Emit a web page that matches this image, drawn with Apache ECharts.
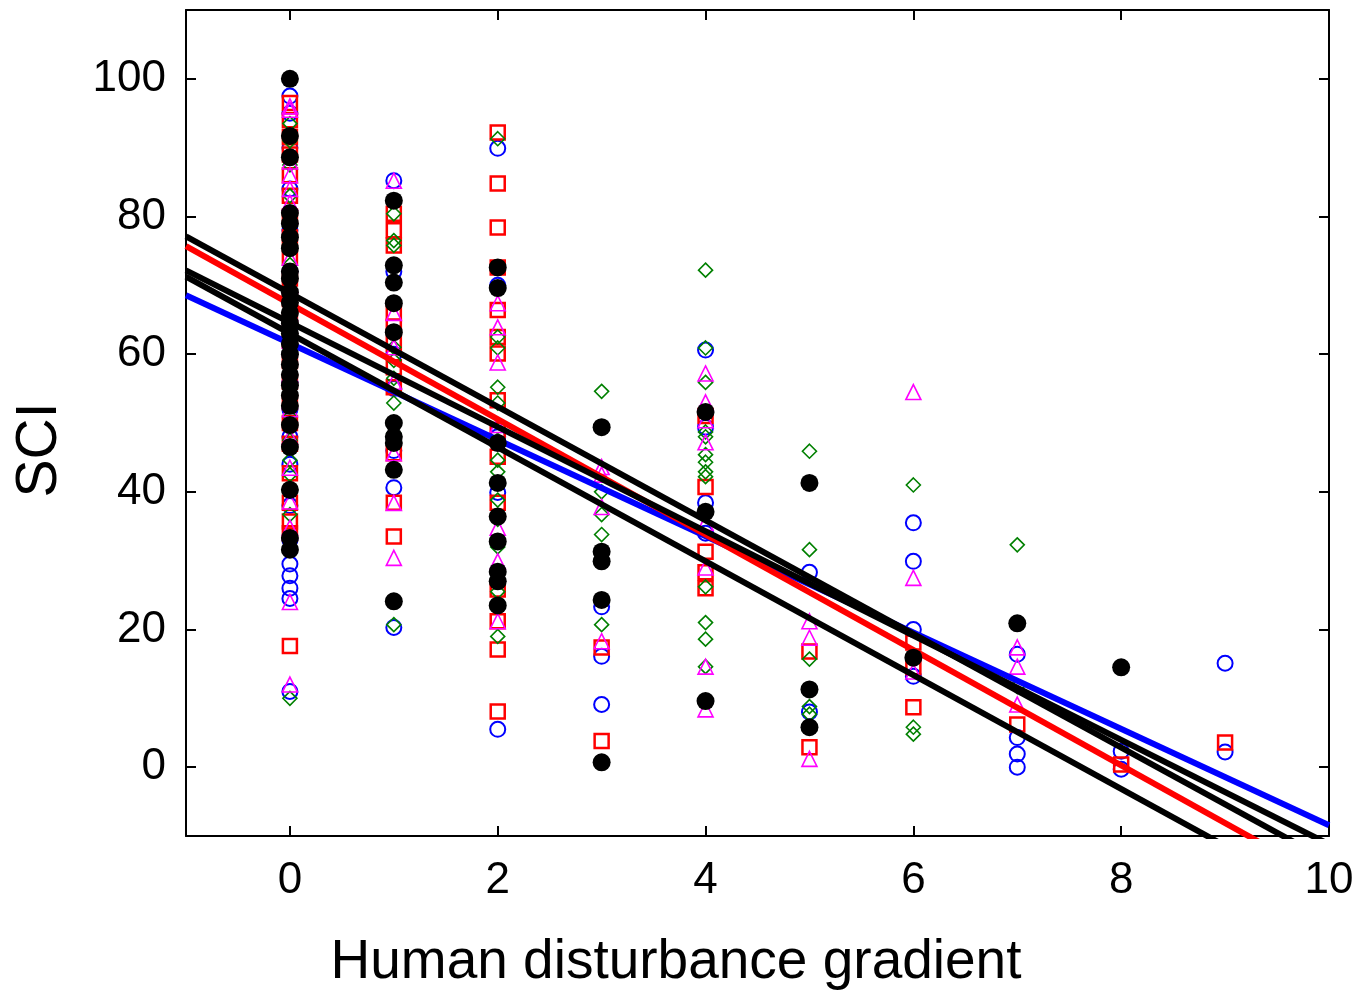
<!DOCTYPE html>
<html><head><meta charset="utf-8">
<script src="https://cdn.jsdelivr.net/npm/echarts@6/dist/echarts.min.js"></script>
<style>html,body{margin:0;padding:0;background:#fff}#c{width:1360px;height:993px}</style>
</head><body><div id="c"></div><script>
const xTicks = [0, 2, 4, 6, 8, 10];
const yTicks = [0, 20, 40, 60, 80, 100];
const xTitle = 'Human disturbance gradient';
const yTitle = 'SCI';

const blueCircles = [
  [0,97.5],[0,95],[0,90],[0,84],[0,78],[0,72],[0,68],[0,64],[0,60],[0,56],[0,52],[0,48],[0,44],[0,38],[0,33],[0,29.5],[0,27.8],[0,26],[0,24.5],[0,11],
  [1,85.2],[1,72],[1,60],[1,55],[1,46],[1,40.6],[1,20.3],
  [2,89.9],[2,70],[2,48],[2,39.9],[2,5.5],
  [3,23.3],[3,16.1],[3,9.1],
  [4,60.6],[4,49.4],[4,38.4],[4,34],
  [5,28.3],[5,8],
  [6,35.5],[6,29.9],[6,20],[6,13.2],
  [7,16.4],[7,4.3],[7,1.9],[7,0],
  [8,2.3],[8,-0.3],
  [9,15.1],[9,2.2]
];
const redSquares = [
  [0,96.5],[0,94],[0,91.5],[0,89],[0,86],[0,83],[0,80],[0,77],[0,74],[0,71],[0,68],[0,65],[0,62],[0,59],[0,56],[0,53],[0,50],[0,47],[0,42.7],[0,38.4],[0,35.7],[0,34],[0,17.6],
  [1,80.4],[1,78],[1,75.8],[1,66],[1,64],[1,61.5],[1,58.1],[1,55.2],[1,45.6],[1,38.4],[1,33.5],
  [2,92.2],[2,84.8],[2,78.4],[2,72.6],[2,66.4],[2,62.5],[2,60.1],[2,53.3],[2,49],[2,45.1],[2,38.4],[2,25.8],[2,21.2],[2,17.1],[2,8.1],
  [3,17.4],[3,3.8],
  [4,51],[4,40.7],[4,31.3],[4,28.3],[4,26],
  [5,16.8],[5,2.9],
  [6,18.1],[6,14.5],[6,8.7],
  [7,6.2],
  [8,0.4],
  [9,3.6]
];
const greenDiamonds = [
  [0,93.5],[0,91],[0,87.5],[0,83],[0,79],[0,76],[0,73],[0,69],[0,66],[0,62],[0,58],[0,55],[0,51],[0,47.5],[0,44.6],[0,42.5],[0,36.7],[0,10],
  [1,80.4],[1,76.5],[1,75.8],[1,63],[1,61],[1,59.1],[1,56.5],[1,52.9],[1,48.5],[1,20.7],
  [2,91.3],[2,62.5],[2,60.9],[2,55.2],[2,52.9],[2,47.5],[2,44.6],[2,42.9],[2,38.8],[2,36],[2,32],[2,25.5],[2,19],
  [3,54.6],[3,40],[3,36.7],[3,33.8],[3,20.7],
  [4,72.2],[4,60.9],[4,55.9],[4,48.7],[4,48],[4,45.4],[4,44.3],[4,42.9],[4,42.2],[4,26.2],[4,21],[4,18.6],[4,14.6],
  [5,45.9],[5,31.6],[5,15.7],[5,8.8],[5,7.7],
  [6,41],[6,5.8],[6,4.8],
  [7,32.3],[7,11.7]
];
const magentaTriangles = [
  [0,96],[0,95.5],[0,88],[0,86],[0,84],[0,82],[0,80],[0,74],[0,70],[0,66],[0,62],[0,57],[0,52],[0,48],[0,43.5],[0,38.6],[0,34.8],[0,24],[0,12],
  [1,85.2],[1,66],[1,61],[1,56],[1,45.6],[1,38.4],[1,30.4],
  [2,67.4],[2,63.9],[2,58.8],[2,49.7],[2,34.8],[2,29.9],[2,21.2],
  [3,43.6],[3,42.5],[3,37.8],[3,18.3],
  [4,57.2],[4,53],[4,50.4],[4,47.2],[4,35.5],[4,29],[4,14.6],[4,8.4],
  [5,21.2],[5,18.8],[5,1.2],
  [6,54.5],[6,27.5],[6,13.9],
  [7,17.4],[7,14.6],[7,9.1]
];
const blackDots = [
  [0,100],[0,91.7],[0,88.6],[0,80.5],[0,79],[0,77],[0,75.4],[0,72],[0,71],[0,69],[0,67.5],[0,66],[0,64.5],[0,63],[0,61.5],[0,60],[0,58.5],[0,57],[0,55.5],[0,54],[0,52.5],[0,49.7],[0,46.5],[0,40.3],[0,33.3],[0,31.6],
  [1,82.3],[1,72.9],[1,70.4],[1,67.4],[1,63.2],[1,50],[1,48],[1,47.1],[1,43.2],[1,24.1],
  [2,72.6],[2,69.6],[2,47.1],[2,41.3],[2,36.4],[2,32.8],[2,28.4],[2,27],[2,23.5],
  [3,49.4],[3,31.3],[3,29.9],[3,24.3],[3,0.7],
  [4,51.6],[4,37.1],[4,9.6],
  [5,41.3],[5,11.3],[5,5.8],
  [6,15.9],
  [7,20.9],
  [8,14.5]
];
// regression fits: [intercept, slope]
const blueFit = [61.55, -7.0];
const redFit = [67.3, -8.38];
const blackFits = [[68.85, -8.25], [64.6, -7.58], [63.0, -8.27]];
const xRange = [-1, 10];
const yRange = [-10, 110];

const FONT = 'Liberation Sans, Arial, sans-serif';
function fitLine(f) { return xRange.map(x => [x, f[0] + f[1] * x]); }
function axisX(pos, labels) {
  return {
    type: 'value', min: xRange[0], max: xRange[1], position: pos,
    axisLine: { show: true, onZero: false, lineStyle: { color: '#000', width: 2 } },
    axisTick: { show: true, inside: true, length: 10, customValues: xTicks, lineStyle: { color: '#000', width: 2 } },
    axisLabel: { show: labels, customValues: xTicks, fontSize: 44, color: '#000', fontFamily: FONT, margin: 23 },
    splitLine: { show: false }
  };
}
function axisY(pos, labels) {
  return {
    type: 'value', min: yRange[0], max: yRange[1], position: pos,
    axisLine: { show: true, onZero: false, lineStyle: { color: '#000', width: 2 } },
    axisTick: { show: true, inside: true, length: 10, customValues: yTicks, lineStyle: { color: '#000', width: 2 } },
    axisLabel: { show: labels, customValues: yTicks, fontSize: 44, color: '#000', fontFamily: FONT, margin: 20 },
    splitLine: { show: false }
  };
}
function open(name, data, symbol, size, color, bw) {
  return { name, type: 'scatter', data, symbol, symbolSize: size, z: 2, silent: true,
    itemStyle: { color: 'rgba(0,0,0,0)', borderColor: color, borderWidth: bw, opacity: 1 } };
}
const series = [
  open('blue', blueCircles, 'circle', 15, '#0000ff', 2),
  open('red', redSquares, 'rect', 14, '#ff0000', 2.5),
  open('green', greenDiamonds, 'diamond', 14, '#008000', 1.6),
  open('magenta', magentaTriangles, 'triangle', 15, '#ff00ff', 1.6),
  { type: 'line', data: fitLine(blueFit), symbol: 'none', z: 3, clip: true, silent: true, lineStyle: { color: '#0000ff', width: 6 } },
  { type: 'line', data: fitLine(redFit), symbol: 'none', z: 3, clip: true, silent: true, lineStyle: { color: '#ff0000', width: 6 } }
];
blackFits.forEach(f => series.push({ type: 'line', data: fitLine(f), symbol: 'none', z: 3, clip: true, silent: true, lineStyle: { color: '#000', width: 6 } }));
series.push({ name: 'black', type: 'scatter', data: blackDots, symbol: 'circle', symbolSize: 18, z: 4, silent: true, itemStyle: { color: '#000', opacity: 1 } });

const chart = echarts.init(document.getElementById('c'), null, { renderer: 'canvas' });
chart.setOption({
  animation: false,
  backgroundColor: '#fff',
  grid: { left: 186, right: 31, top: 10, bottom: 157, containLabel: false },
  xAxis: [axisX('bottom', true), axisX('top', false)],
  yAxis: [axisY('left', true), axisY('right', false)],
  series,
  graphic: [
    { type: 'text', x: 40, y: 450, rotation: Math.PI / 2,
      style: { text: yTitle, fontSize: 57, fontFamily: FONT, fill: '#000', align: 'center', verticalAlign: 'middle' } },
    { type: 'text', x: 676, y: 963,
      style: { text: xTitle, fontSize: 55, fontFamily: FONT, fill: '#000', align: 'center', verticalAlign: 'middle' } }
  ]
});
</script></body></html>
